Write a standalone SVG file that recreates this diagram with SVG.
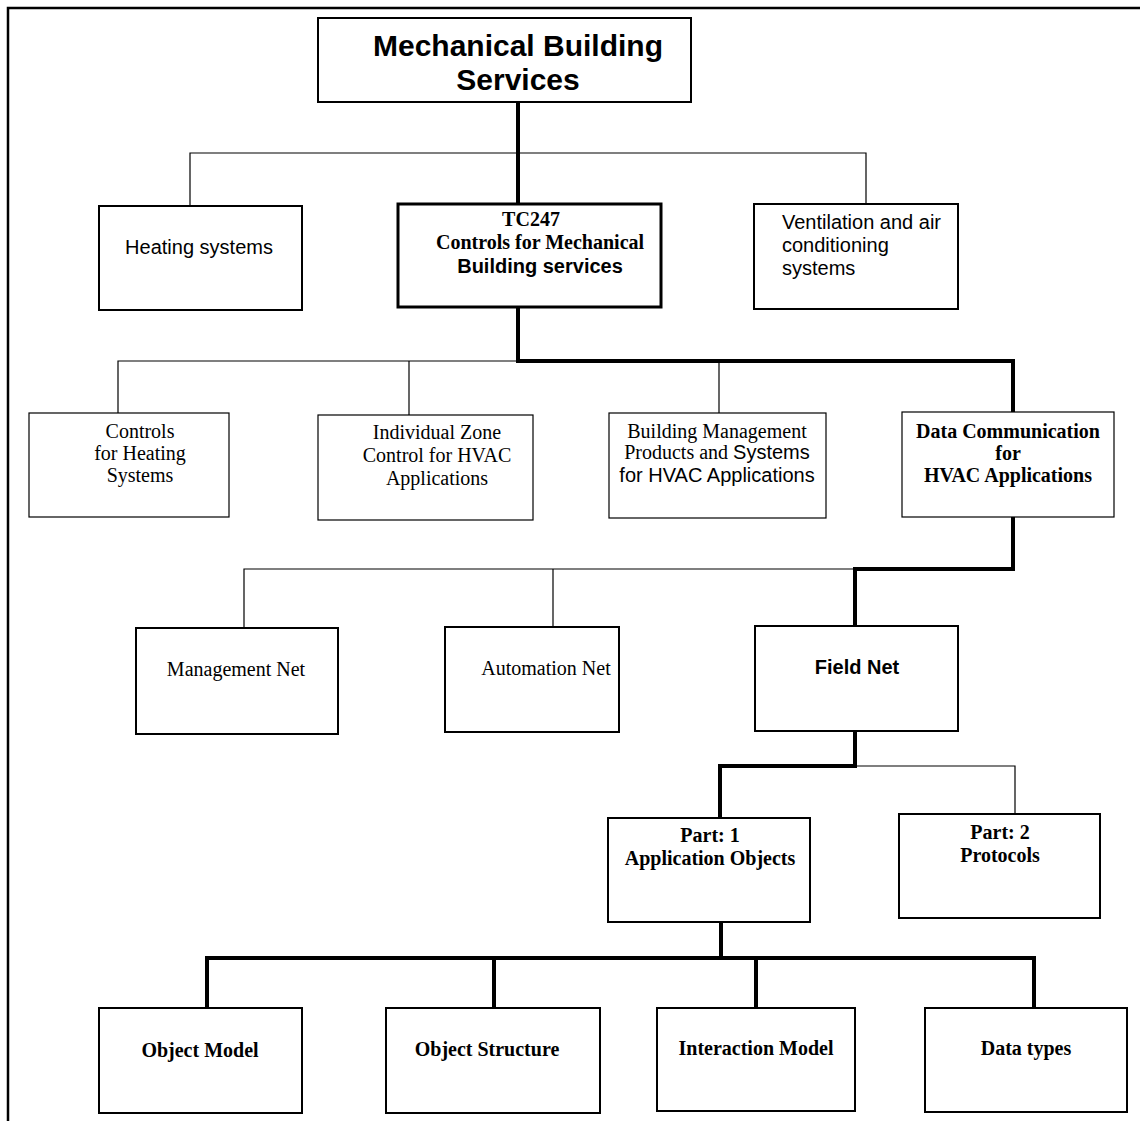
<svg xmlns="http://www.w3.org/2000/svg" width="1140" height="1121" viewBox="0 0 1140 1121">
<style>
.box{fill:#fff;stroke:#000;stroke-width:2}
.boxb{fill:#fff;stroke:#000;stroke-width:3}
.boxt{fill:#fff;stroke:#000;stroke-width:1.2}
.thin{fill:none;stroke:#000;stroke-width:1.2}
.thick{fill:none;stroke:#000;stroke-width:4}
.frame{fill:none;stroke:#000;stroke-width:2.5}
text{fill:#000;text-anchor:middle;dominant-baseline:central}
.sans{font-family:"Liberation Sans",Arial,sans-serif;font-size:20px}
.serif{font-family:"Liberation Serif","Times New Roman",serif;font-size:20px}
.bs{font-family:"Liberation Serif","Times New Roman",serif;font-size:20px;font-weight:bold}
.bsans{font-family:"Liberation Sans",Arial,sans-serif;font-size:20px;font-weight:bold}
.title{font-family:"Liberation Sans",Arial,sans-serif;font-size:30px;font-weight:bold}
.left{text-anchor:start}
</style>
<rect width="1140" height="1121" fill="#fff"/>
<path class="frame" d="M8,1121 V8 H1140"/>
<g id="connectors">
  <path class="thick" d="M518,102 V205"/>
  <path class="thin" d="M190,206 V153 H866 V204"/>
  <path class="thick" d="M518,307 V361 H1013 V412"/>
  <path class="thin" d="M118,413 V361 H518"/>
  <path class="thin" d="M409,361 V415"/>
  <path class="thin" d="M719,361 V413"/>
  <path class="thick" d="M1013,517 V569 H855 V626"/>
  <path class="thin" d="M244,628 V569 H855"/>
  <path class="thin" d="M553,569 V627"/>
  <path class="thick" d="M855,731 V766 H720 V818"/>
  <path class="thin" d="M855,766 H1015 V814"/>
  <path class="thick" d="M721,922 V958"/>
  <path class="thick" d="M207,1008 V958 H1034 V1008"/>
  <path class="thick" d="M494,958 V1008"/>
  <path class="thick" d="M756,958 V1008"/>
</g>
<g id="n-mbs">
  <rect class="box" x="318" y="18" width="373" height="84"/>
  <text class="title" x="518" y="45">Mechanical Building</text>
  <text class="title" x="518" y="79">Services</text>
</g>
<g id="n-heating">
  <rect class="box" x="99" y="206" width="203" height="104"/>
  <text class="sans" x="199" y="247">Heating systems</text>
</g>
<g id="n-tc247">
  <rect class="boxb" x="398" y="204" width="263" height="103"/>
  <text class="bs" x="531" y="219">TC247</text>
  <text class="bs" x="540" y="242">Controls for Mechanical</text>
  <text class="bsans" x="540" y="266">Building services</text>
</g>
<g id="n-vent">
  <rect class="box" x="754" y="204" width="204" height="105"/>
  <text class="sans left" x="782" y="222">Ventilation and air</text>
  <text class="sans left" x="782" y="245">conditioning</text>
  <text class="sans left" x="782" y="268">systems</text>
</g>
<g id="n-ctrlheat">
  <rect class="boxt" x="29" y="413" width="200" height="104"/>
  <text class="serif" x="140" y="431">Controls</text>
  <text class="serif" x="140" y="453">for Heating</text>
  <text class="serif" x="140" y="475">Systems</text>
</g>
<g id="n-izc">
  <rect class="boxt" x="318" y="415" width="215" height="105"/>
  <text class="serif" x="437" y="432">Individual Zone</text>
  <text class="serif" x="437" y="455">Control for HVAC</text>
  <text class="serif" x="437" y="478">Applications</text>
</g>
<g id="n-bms">
  <rect class="boxt" x="609" y="413" width="217" height="105"/>
  <text class="serif" x="717" y="431">Building Management</text>
  <text class="serif" x="717" y="452">Products and <tspan class="sans">Systems</tspan></text>
  <text class="sans" x="717" y="475">for HVAC Applications</text>
</g>
<g id="n-datacomm">
  <rect class="boxt" x="902" y="412" width="212" height="105"/>
  <text class="bs" x="1008" y="431">Data Communication</text>
  <text class="bs" x="1008" y="453">for</text>
  <text class="bs" x="1008" y="475">HVAC Applications</text>
</g>
<g id="n-mgmt">
  <rect class="box" x="136" y="628" width="202" height="106"/>
  <text class="serif" x="236" y="669">Management Net</text>
</g>
<g id="n-auto">
  <rect class="box" x="445" y="627" width="174" height="105"/>
  <text class="serif" x="546" y="668">Automation Net</text>
</g>
<g id="n-field">
  <rect class="box" x="755" y="626" width="203" height="105"/>
  <text class="bsans" x="857" y="667">Field Net</text>
</g>
<g id="n-part1">
  <rect class="box" x="608" y="818" width="202" height="104"/>
  <text class="bs" x="710" y="835">Part: 1</text>
  <text class="bs" x="710" y="858">Application Objects</text>
</g>
<g id="n-part2">
  <rect class="box" x="899" y="814" width="201" height="104"/>
  <text class="bs" x="1000" y="832">Part: 2</text>
  <text class="bs" x="1000" y="855">Protocols</text>
</g>
<g id="n-objmodel">
  <rect class="box" x="99" y="1008" width="203" height="105"/>
  <text class="bs" x="200" y="1050">Object Model</text>
</g>
<g id="n-objstruct">
  <rect class="box" x="386" y="1008" width="214" height="105"/>
  <text class="bs" x="487" y="1049">Object Structure</text>
</g>
<g id="n-interact">
  <rect class="box" x="657" y="1008" width="198" height="103"/>
  <text class="bs" x="756" y="1048">Interaction Model</text>
</g>
<g id="n-datatypes">
  <rect class="box" x="925" y="1008" width="202" height="104"/>
  <text class="bs" x="1026" y="1048">Data types</text>
</g>
</svg>
